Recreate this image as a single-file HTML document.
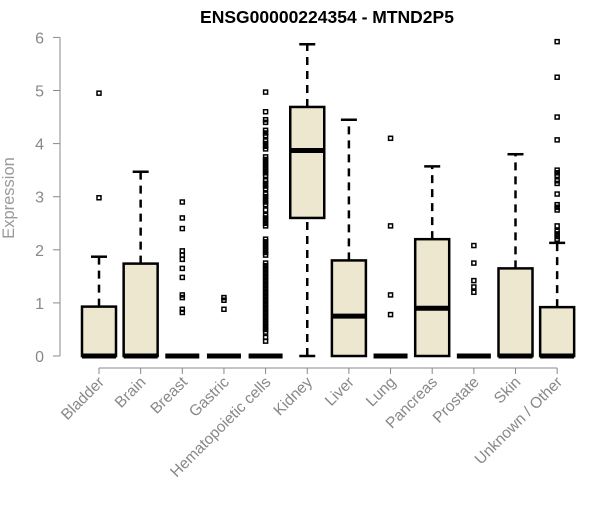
<!DOCTYPE html>
<html><head><meta charset="utf-8"><style>
body{margin:0;background:#fff;font-family:"Liberation Sans",Arial,sans-serif}
</style></head><body>
<svg id="chart" width="600" height="500" xmlns="http://www.w3.org/2000/svg">
<text x="327" y="23" text-anchor="middle" font-size="17.5" font-weight="bold">ENSG00000224354 - MTND2P5</text>
<text transform="translate(14,198) rotate(-90)" text-anchor="middle" font-size="16.5" fill="#999">Expression</text>
<g id="axes"></g><g id="boxes"></g>
</svg>
<script>
const categories=["Bladder","Brain","Breast","Gastric","Hematopoietic cells","Kidney","Liver","Lung","Pancreas","Prostate","Skin","Unknown / Other"];
const q1=[0,0,0,0,0,2.6,0,0,0,0,0,0];
const medians=[0,0,0,0,0,3.87,0.75,0,0.9,0,0,0];
const q3=[0.93,1.74,0,0,0,4.69,1.8,0,2.2,0,1.65,0.92];
const whiskLo=[0,0,0,0,0,0,0,0,0,0,0,0];
const whiskHi=[1.87,3.47,0,0,0,5.87,4.45,0,3.57,0,3.8,2.13];
const outliers=[[2.98,4.95],[],[0.82,0.88,1.1,1.15,1.48,1.65,1.82,1.9,1.98,2.4,2.6,2.9],[0.88,1.05,1.1],
[0.28,0.35,0.45,0.5,0.55,0.6,0.65,0.7,0.75,0.8,0.85,0.9,0.95,1.0,1.05,1.1,1.15,1.2,1.25,1.3,1.35,1.4,1.45,1.5,1.55,1.6,1.65,1.7,1.75,1.9,1.95,2.0,2.05,2.1,2.15,2.2,2.45,2.5,2.55,2.6,2.65,2.75,2.85,2.9,2.95,3.0,3.05,3.15,3.2,3.25,3.3,3.4,3.45,3.5,3.55,3.6,3.65,3.7,3.75,3.9,3.95,4.0,4.05,4.15,4.2,4.25,4.4,4.45,4.6,4.97],
[],[],[0.78,1.15,2.45,4.1],[],[1.2,1.3,1.42,1.75,2.08],[],
[2.2,2.25,2.3,2.35,2.45,2.75,2.8,2.85,3.05,3.25,3.3,3.4,3.45,3.5,4.07,4.5,5.25,5.92]];
const yTicks=[0,1,2,3,4,5,6];
const NS="http://www.w3.org/2000/svg";
const y=v=>356-v*53.1;
const x=i=>99+i*41.65;
function mk(p,t,a){const e=document.createElementNS(NS,t);for(const k in a)e.setAttribute(k,a[k]);p.appendChild(e);return e;}
const ax=document.getElementById('axes'),bx=document.getElementById('boxes');
let l=mk(ax,'line',{x1:60,x2:60,y1:y(0),y2:y(6),stroke:'#888'});


yTicks.forEach(t=>{
 const tk=mk(ax,'line',{x1:53,x2:60,y1:y(t),y2:y(t),stroke:'#888'});
 
 
 const tx=mk(ax,'text',{x:44,y:y(t)+6,'text-anchor':'end','font-size':16,fill:'#888'});
 
 
 tx.textContent=t;
});
l=mk(ax,'line',{x1:x(0),x2:x(11),y1:368,y2:368,stroke:'#888'});


categories.forEach((c,i)=>{
 const tk=mk(ax,'line',{x1:x(i),x2:x(i),y1:368,y2:374,stroke:'#888'});
 
 
 const tx=mk(ax,'text',{transform:`translate(${x(i)+6},383) rotate(-45)`,'text-anchor':'end','font-size':15.5,fill:'#888'});
 
 
 tx.textContent=c;
 const g=mk(bx,'g',{});
 
 
 const cx=x(i),hw=17;
 if(whiskHi[i]>q3[i]){
  mk(g,'line',{x1:cx,x2:cx,y1:y(q3[i]),y2:y(whiskHi[i]),stroke:'#000','stroke-width':2.5,'stroke-dasharray':'8,6'});
  mk(g,'line',{x1:cx-8,x2:cx+8,y1:y(whiskHi[i]),y2:y(whiskHi[i]),stroke:'#000','stroke-width':2.5});
 }
 if(q1[i]>whiskLo[i]){
  mk(g,'line',{x1:cx,x2:cx,y1:y(whiskLo[i]),y2:y(q1[i]),stroke:'#000','stroke-width':2.5,'stroke-dasharray':'8,6'});
  mk(g,'line',{x1:cx-8,x2:cx+8,y1:y(whiskLo[i]),y2:y(whiskLo[i]),stroke:'#000','stroke-width':2.5});
 }
 mk(g,'rect',{x:cx-hw,y:y(q3[i]),width:2*hw,height:Math.max(0,y(q1[i])-y(q3[i])),fill:'#ede7cf',stroke:'#000','stroke-width':2.5});
 mk(g,'line',{x1:cx-hw,x2:cx+hw,y1:y(medians[i]),y2:y(medians[i]),stroke:'#000','stroke-width':5});
 outliers[i].forEach(v=>{
  const o=mk(g,'rect',{x:cx-2,y:y(v)-2,width:4,height:4,fill:'none',stroke:'#000','stroke-width':1.5});
  
  
 });
});
</script>
</body></html>
